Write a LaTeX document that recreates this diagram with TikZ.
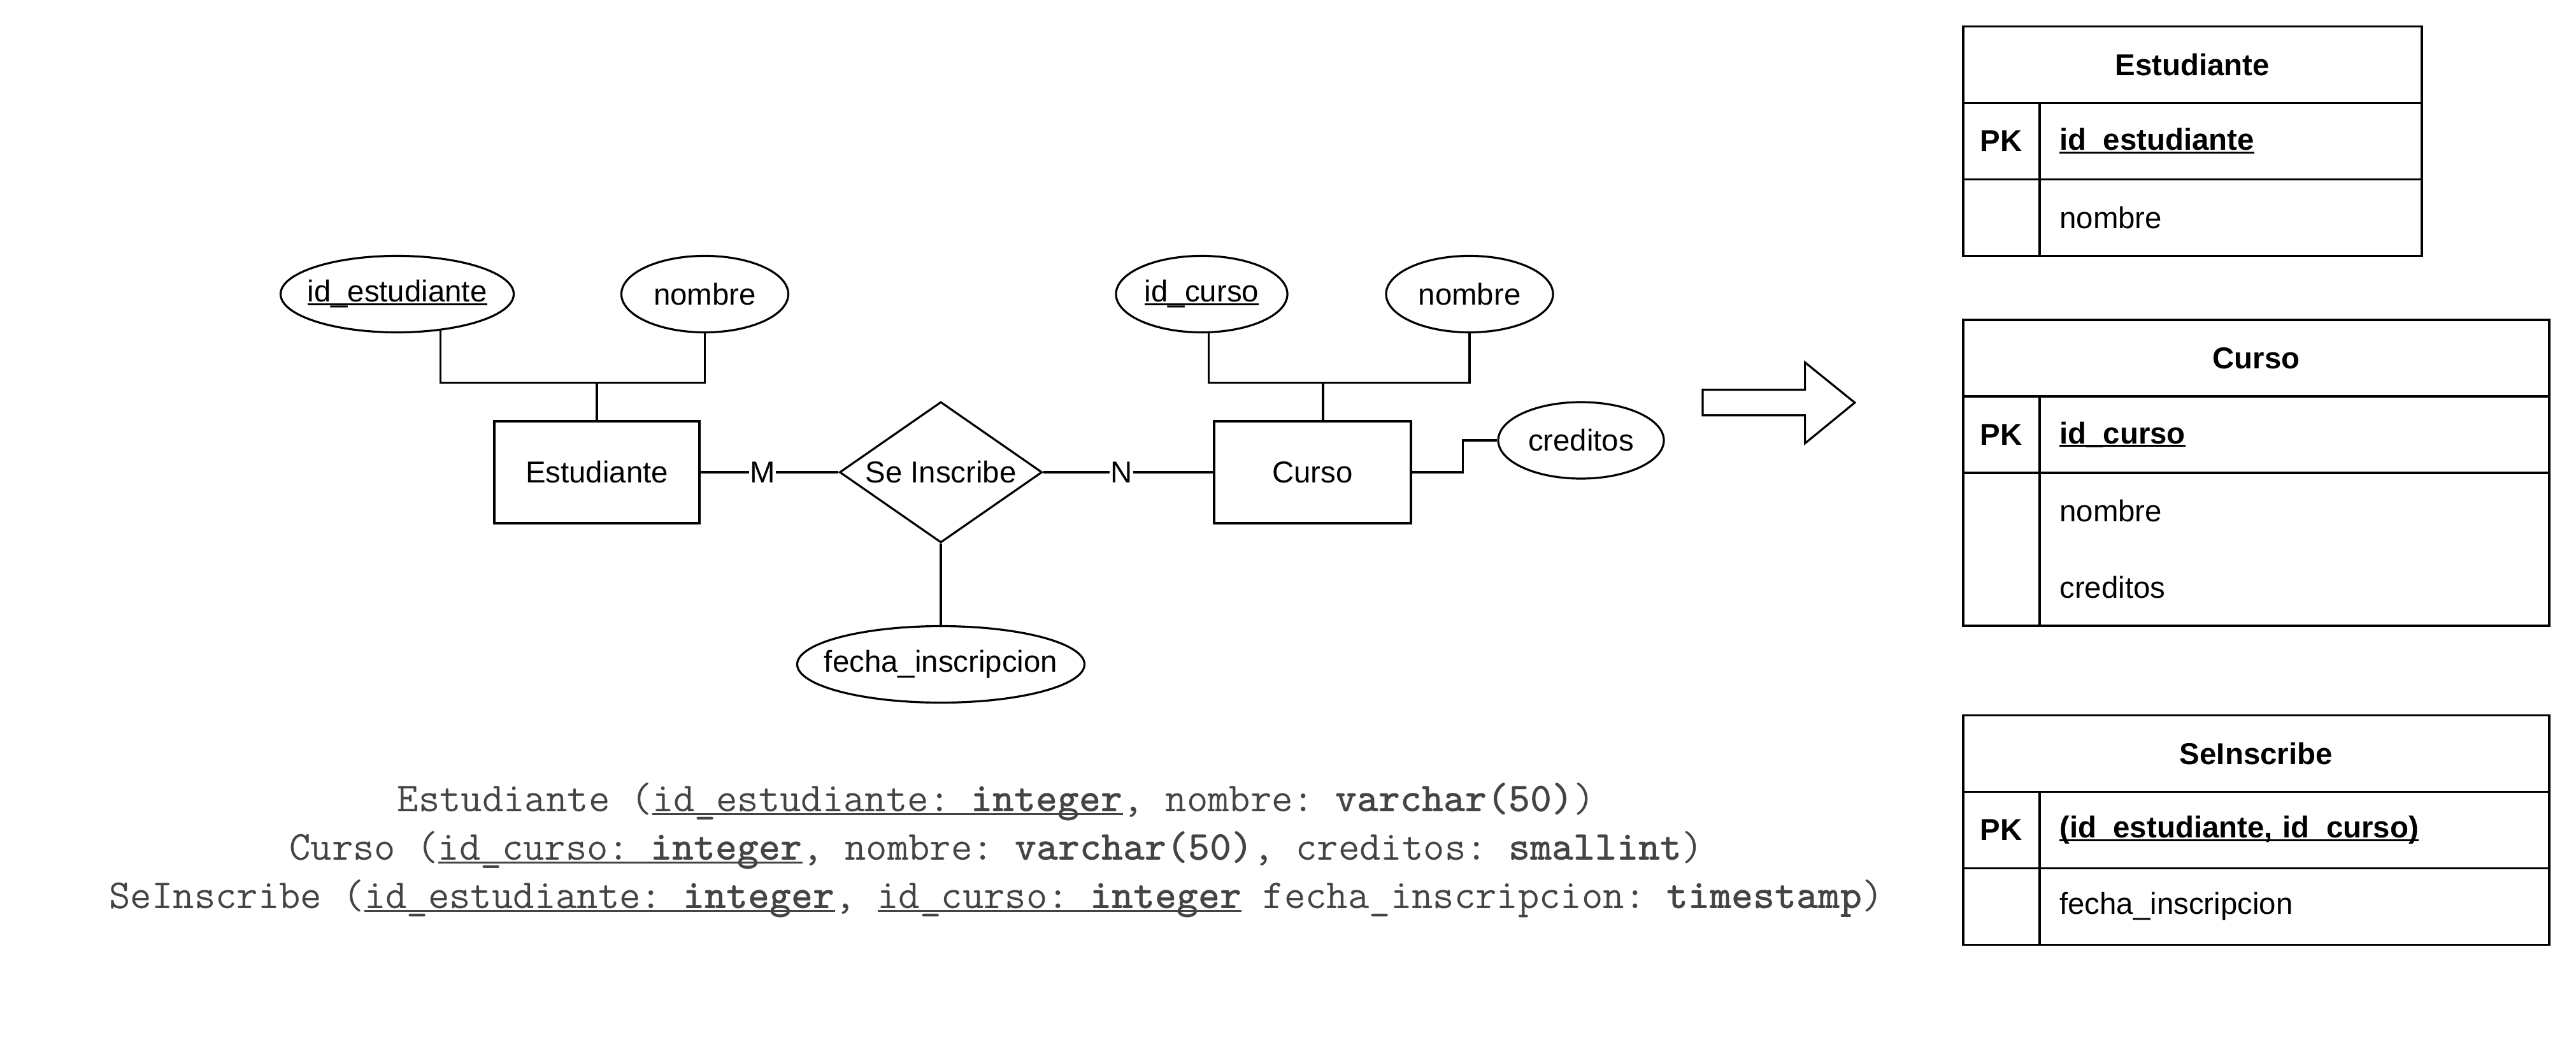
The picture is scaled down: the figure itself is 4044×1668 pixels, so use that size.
\documentclass[tikz,border=0pt]{standalone}
\usepackage{fontspec}
\setmainfont{Liberation Sans}
\usepackage{tikz}
\usetikzlibrary{calc}
\usetikzlibrary{shapes.geometric}
\usetikzlibrary{positioning}
\definecolor{sqlgray}{HTML}{444444}
\newcommand{\erfont}{\fontsize{11.85pt}{14pt}\selectfont}
\newcommand{\sqlfont}{\ttfamily\fontsize{16.2pt}{19pt}\selectfont\frenchspacing}
\newcommand{\uln}[2][0.1em]{\setbox0\hbox{#2}\rlap{\rule[-#1]{\wd0}{0.06em}}\box0\relax}

\begin{document}
\begin{tikzpicture}[x=0.25pt, y=-0.25pt,
      entity/.style={draw, line width=0.8pt, minimum height=40pt, inner sep=0pt, font=\erfont},
      attr/.style={draw, ellipse, line width=0.8pt, minimum height=30pt, inner xsep=-6pt, inner ysep=0pt, font=\erfont},
      relation/.style={draw, diamond, aspect=1.44, line width=0.8pt, minimum width=79.5pt, minimum height=55.25pt, inner sep=0pt, font=\erfont},
      link/.style={line width=0.8pt},
      card/.style={fill=white, inner sep=0.3pt, font=\erfont},
      bigarrow/.style={draw, fill=white, line width=0.8pt},
      thead/.style={draw, line width=0.9pt, outer sep=0pt, minimum height=30pt, inner sep=0pt, font=\erfont\bfseries},
      tkey/.style={draw, line width=0.9pt, outer sep=0pt, minimum width=30pt, inner sep=0pt, font=\erfont\bfseries},
      tval/.style={draw, line width=0.9pt, outer sep=0pt, inner xsep=7.875pt, inner ysep=0pt, align=left, font=\erfont},
      sql/.style={anchor=base, inner sep=0pt, text=sqlgray, font=\sqlfont}]
    \useasboundingbox (0,0) rectangle (4044,1668);

    % ER diagram
    \node[entity, minimum width=80.5pt] (est) at (937,741) {Estudiante};
    \node[relation] (ins) at (1477,741) {Se Inscribe};
    \node[entity, minimum width=77.25pt] (cur) at (2060.5,741) {Curso};
    \node[attr, minimum width=91.5pt] (ide) at (623.5,461.5) {\uln{id\_estudiante}};
    \node[attr, minimum width=65.5pt] (nome) at (1106.5,461.5) {nombre};
    \node[attr, minimum width=67.25pt] (idc) at (1886.5,461.5) {\uln{id\_curso}};
    \node[attr, minimum width=65.5pt] (nomc) at (2307,461.5) {nombre};
    \node[attr, minimum width=65pt] (cre) at (2482,691) {creditos};
    \node[attr, minimum width=112.75pt] (fec) at (1477,1042.5) {fecha\_inscripcion};

    \draw[link] (est.east) -- node[card, pos=0.45] {M} (ins.west);
    \draw[link] (ins.east) -- node[card, pos=0.46] {N} (cur.west);
    \draw[link] (ins.south) -- (fec.north);
    \draw[link] (est.north) -- ++(0,-59) coordinate (estj);
    \draw[link] (ide.-40.5) |- (estj) -| (nome.south);
    \draw[link] ($(cur.north)+(16.5,0)$) -- ++(0,-59) coordinate (curj);
    \draw[link] (idc.-80) |- (curj) -| (nomc.south);
    \draw[link] (cur.east) -- ++(80,0) |- (cre.west);

    % arrow
    \draw[bigarrow] (2673,611.5) -- (2833.6,611.5) -- (2833.6,568.7) -- (2911.7,631.8)
      -- (2833.6,695.7) -- (2833.6,651.7) -- (2673,651.7) -- cycle;

    % tables
    \node[thead, minimum width=180pt] (tEst) at (3441.8,101.5) {Estudiante};
    \node[tkey, minimum height=30pt, below right=0pt of tEst.south west] (kEst) {PK};
    \node[tval, minimum height=30pt, text width=134.25pt, right=0pt of kEst] (vEst) {\textbf{\uln{id\_estudiante}}};
    \node[tkey, minimum height=30pt, below=0pt of kEst] (kEst2) {};
    \node[tval, minimum height=30pt, text width=134.25pt, right=0pt of kEst2] (vEst2) {nombre};

    \node[thead, minimum width=230pt] (tCur) at (3541.8,561.8) {Curso};
    \node[tkey, minimum height=30pt, below right=0pt of tCur.south west] (kCur) {PK};
    \node[tval, minimum height=30pt, text width=184.25pt, right=0pt of kCur] (vCur) {\textbf{\uln{id\_curso}}};
    \node[tkey, minimum height=60pt, below=0pt of kCur] (kCur2) {};
    \node[tval, minimum height=60pt, text width=184.25pt, font=\fontsize{11.85pt}{30pt}\selectfont,
      right=0pt of kCur2] (vCur2) {nombre\\creditos};

    \node[thead, minimum width=230pt] (tIns) at (3541.8,1182.5) {SeInscribe};
    \node[tkey, minimum height=30pt, below right=0pt of tIns.south west] (kIns) {PK};
    \node[tval, minimum height=30pt, text width=184.25pt, right=0pt of kIns] (vIns) {\textbf{\uln{(id\_estudiante, id\_curso)}}};
    \node[tkey, minimum height=30pt, below=0pt of kIns] (kIns2) {};
    \node[tval, minimum height=30pt, text width=184.25pt, right=0pt of kIns2] (vIns2) {fecha\_inscripcion};

    % relational schema
    \node[sql] (sqlEst) at (1564,1273) {Estudiante (\uln{id\_estudiante: \textbf{integer}}, nombre: \textbf{varchar(50)})};
    \node[sql] (sqlCur) at (1564,1349) {Curso (\uln{id\_curso: \textbf{integer}}, nombre: \textbf{varchar(50)}, creditos: \textbf{smallint})};
    \node[sql] (sqlIns) at (1564,1425) {SeInscribe (\uln{id\_estudiante: \textbf{integer}}, \uln{id\_curso: \textbf{integer}} fecha\_inscripcion: \textbf{timestamp})};
  \end{tikzpicture}
\end{document}
